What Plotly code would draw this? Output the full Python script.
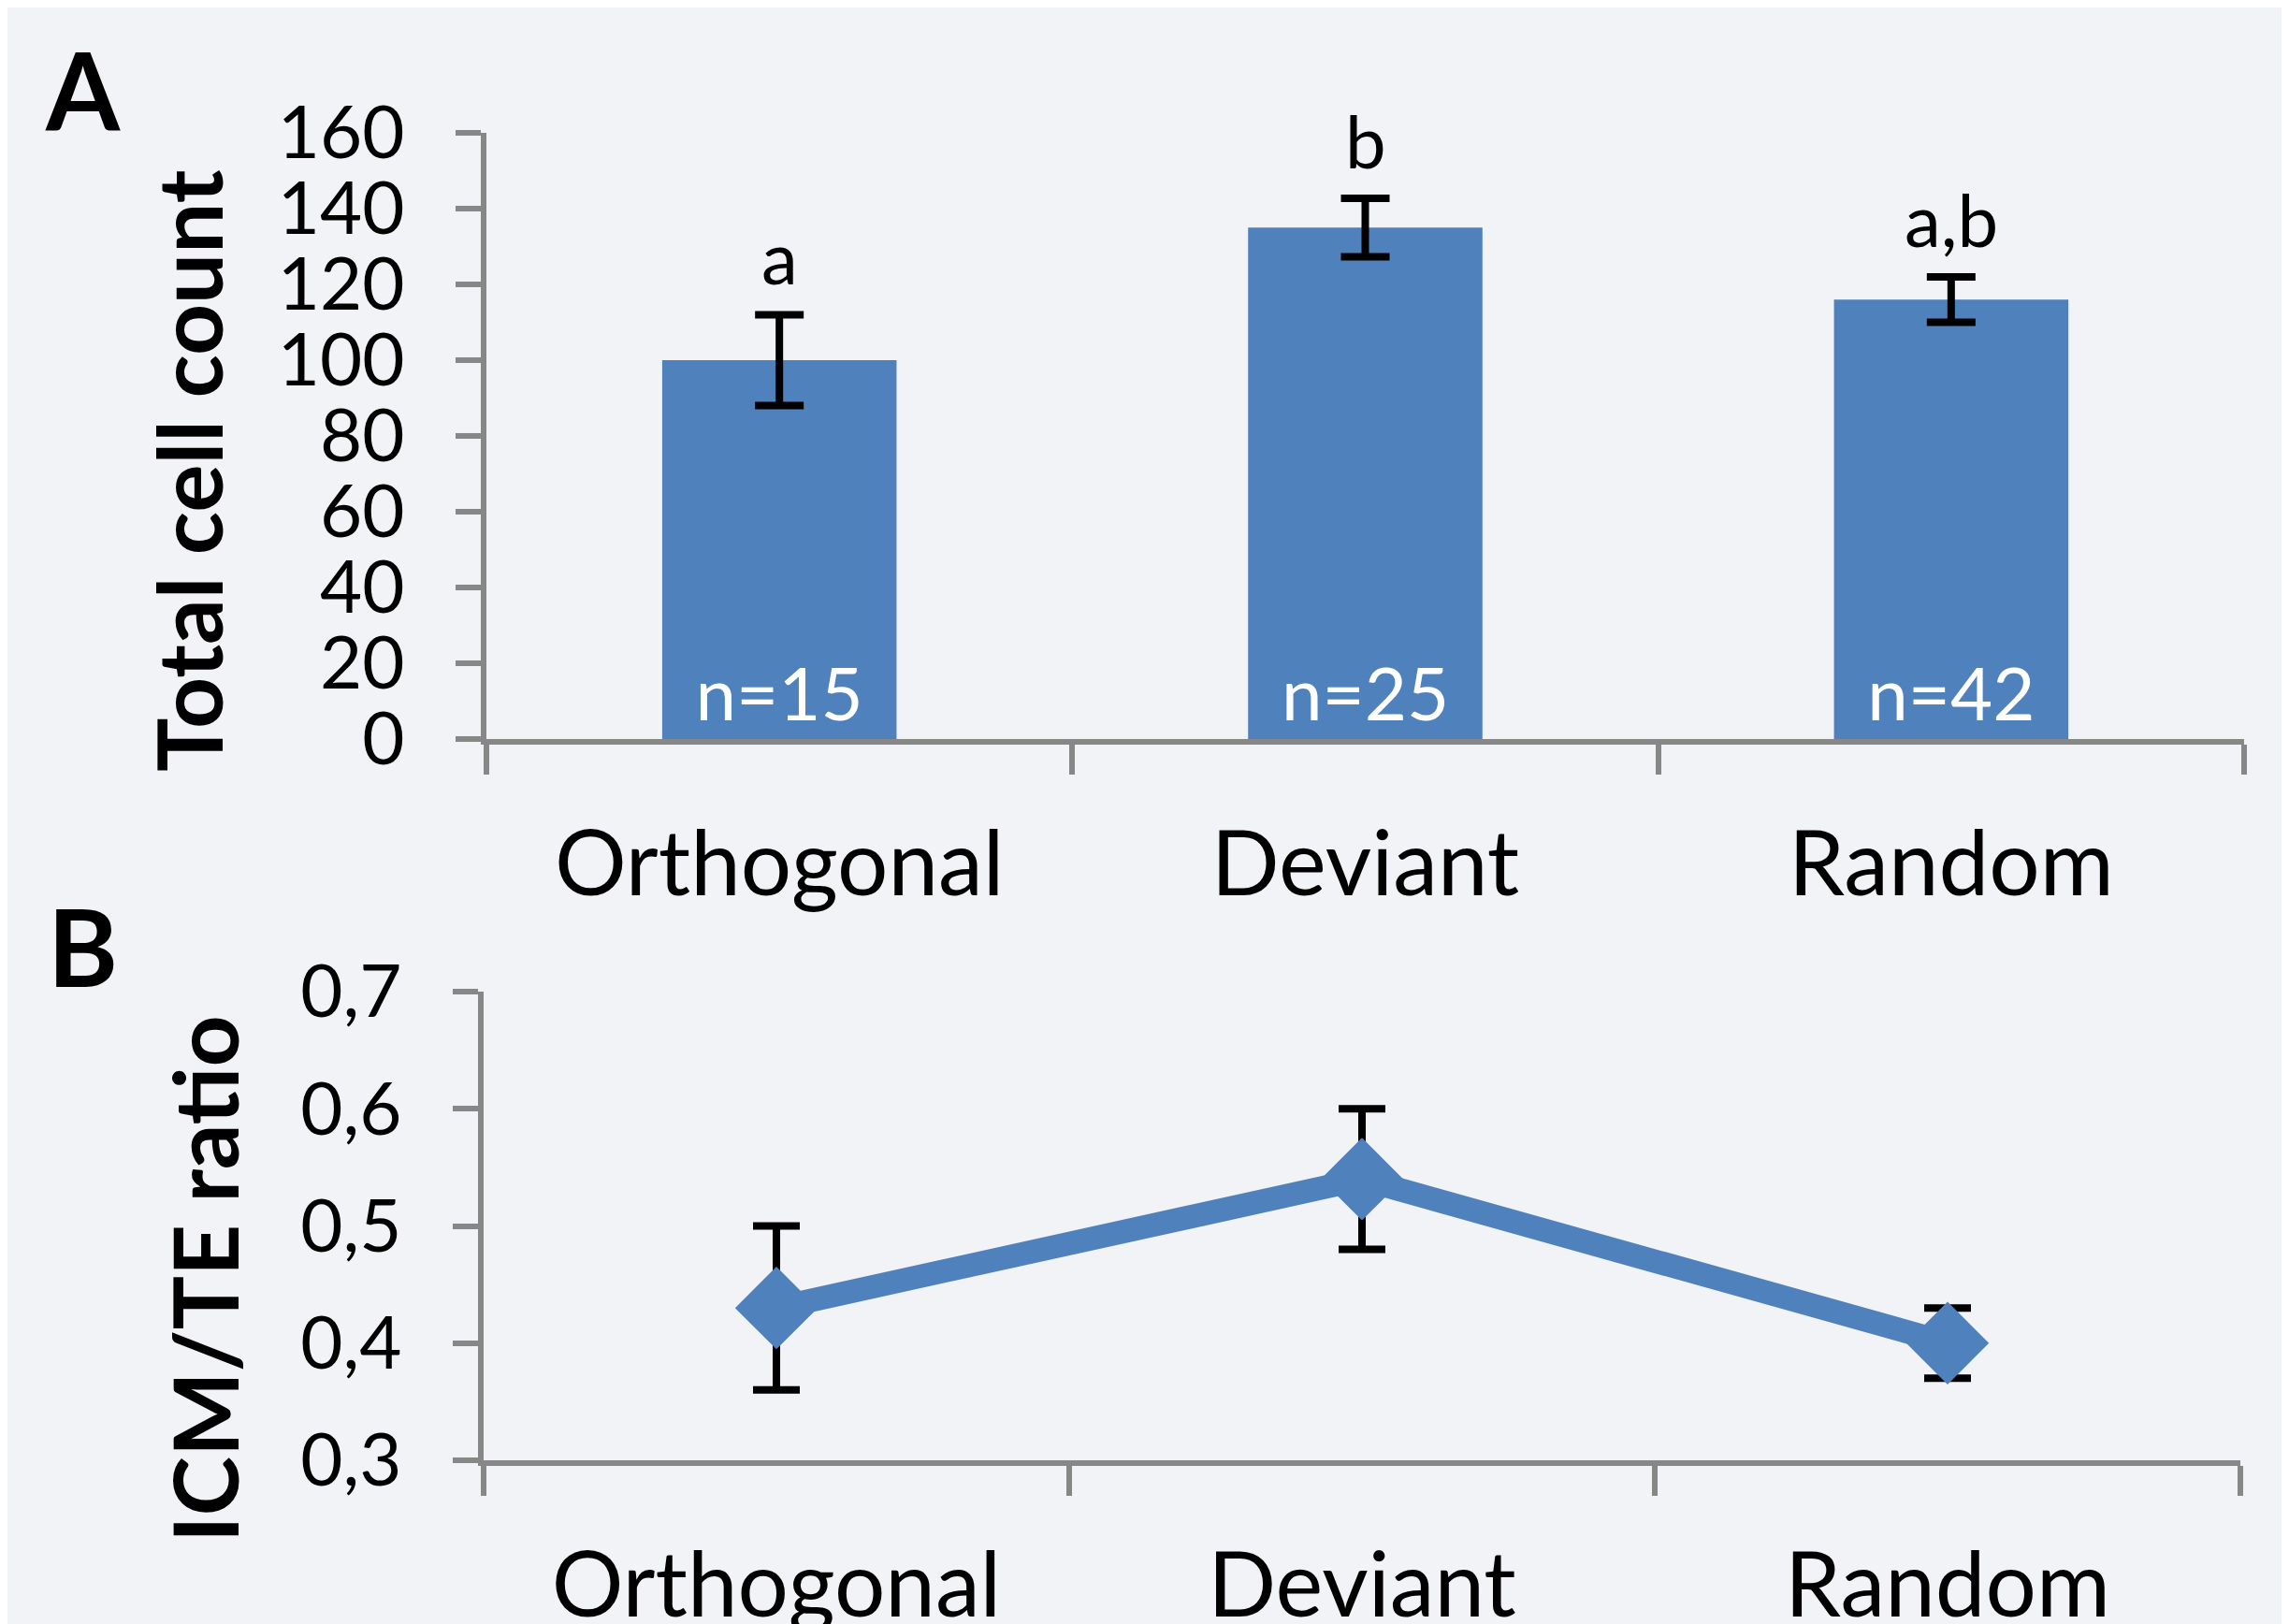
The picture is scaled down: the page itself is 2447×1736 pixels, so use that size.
import plotly.graph_objects as go

# ---------------- data ----------------
categories = ["Orthogonal", "Deviant", "Random"]
total_cells = [100, 135, 116]
total_cells_err = [12, 7.7, 6]
n_labels = ["n=15", "n=25", "n=42"]
sig_letters = ["a", "b", "a,b"]
icm_te_ratio = [0.43, 0.54, 0.40]
icm_te_err = [0.07, 0.06, 0.03]
yticks_a = [0, 20, 40, 60, 80, 100, 120, 140, 160]
yticks_b = [0.3, 0.4, 0.5, 0.6, 0.7]

# ---------------- style ----------------
W, H = 2447, 1736
OFF = 8  # page body margin in the photographed page
FONT = "Lato"
BLUE = "#4F81BD"
GREY = "#878787"
BG = "#F2F3F6"
TICK_FS = 78
XLAB_FS = 96
TITLE_FS = 96
PANEL_FS = 114


def px_x(p):
    return (p - OFF) / W


def px_y(p):
    return 1 - (p - OFF) / H


fig = go.Figure()

fig.add_trace(go.Bar(
    x=categories, y=total_cells,
    error_y=dict(type="data", array=total_cells_err, color="black",
                 thickness=8, width=26),
    marker=dict(color=BLUE, line=dict(width=0)),
    text=n_labels, textposition="inside", insidetextanchor="start",
    textangle=0, textfont=dict(color="white", size=TICK_FS, family=FONT),
    xaxis="x", yaxis="y", showlegend=False, hoverinfo="skip",
))

fig.add_trace(go.Scatter(
    x=categories, y=icm_te_ratio, mode="lines+markers",
    error_y=dict(type="data", array=icm_te_err, color="black",
                 thickness=8, width=25),
    line=dict(color=BLUE, width=25),
    marker=dict(symbol="diamond", size=68, color=BLUE),
    xaxis="x2", yaxis="y2", showlegend=False, hoverinfo="skip",
))

common_x = dict(
    type="category", range=[-0.5, 2.5], showline=True, linecolor=GREY,
    linewidth=6, ticks="outside", ticklen=32, tickwidth=6, tickcolor=GREY,
    tickson="boundaries", showgrid=False, zeroline=False, automargin=False,
    tickfont=dict(family=FONT, size=XLAB_FS, color="black"),
    ticklabelstandoff=46,
)
common_y = dict(
    showline=True, linecolor=GREY, linewidth=6, ticks="outside",
    ticklen=27, tickwidth=6, tickcolor=GREY, showgrid=False,
    zeroline=False, automargin=False,
    tickfont=dict(family=FONT, size=TICK_FS, color="black"),
    ticklabelstandoff=39,
)

annotations = []
for cat, v, e, lab in zip(categories, total_cells, total_cells_err, sig_letters):
    annotations.append(dict(
        x=cat, y=v + e, xref="x", yref="y", text=lab, showarrow=False,
        xanchor="center", yanchor="bottom", yshift=13,
        font=dict(family=FONT, size=TICK_FS, color="black"),
    ))

annotations += [
    dict(x=px_x(88), y=px_y(95), xref="paper", yref="paper", text="<b>A</b>",
         xanchor="center", yanchor="middle", showarrow=False,
         font=dict(family=FONT, size=PANEL_FS, color="black")),
    dict(x=px_x(88), y=px_y(1010), xref="paper", yref="paper", text="<b>B</b>",
         xanchor="center", yanchor="middle", showarrow=False,
         font=dict(family=FONT, size=PANEL_FS, color="black")),
    dict(x=px_x(200), y=px_y(503), xref="paper", yref="paper",
         text="<b>Total cell count</b>", textangle=-90, showarrow=False,
         xanchor="center", yanchor="middle",
         font=dict(family=FONT, size=TITLE_FS, color="black")),
    dict(x=px_x(217), y=px_y(1367), xref="paper", yref="paper",
         text="<b>ICM/TE ratio</b>", textangle=-90, showarrow=False,
         xanchor="center", yanchor="middle",
         font=dict(family=FONT, size=TITLE_FS, color="black")),
]

fig.update_layout(
    width=W, height=H,
    margin=dict(l=0, r=0, t=0, b=0, autoexpand=False),
    paper_bgcolor=BG, plot_bgcolor=BG,
    separators=",.",
    bargap=0.6,
    font=dict(family=FONT),
    xaxis=dict(domain=[px_x(520), px_x(2399)], anchor="y", **common_x),
    yaxis=dict(domain=[px_y(790), px_y(142)], anchor="x", range=[0, 160],
               tickvals=yticks_a, **common_y),
    xaxis2=dict(domain=[px_x(517), px_x(2395)], anchor="y2", **common_x),
    yaxis2=dict(domain=[px_y(1561), px_y(1060)], anchor="x2", range=[0.3, 0.7],
                tickvals=yticks_b, tickformat=".1f", **common_y),
    annotations=annotations,
)

fig.write_html("out.html")
